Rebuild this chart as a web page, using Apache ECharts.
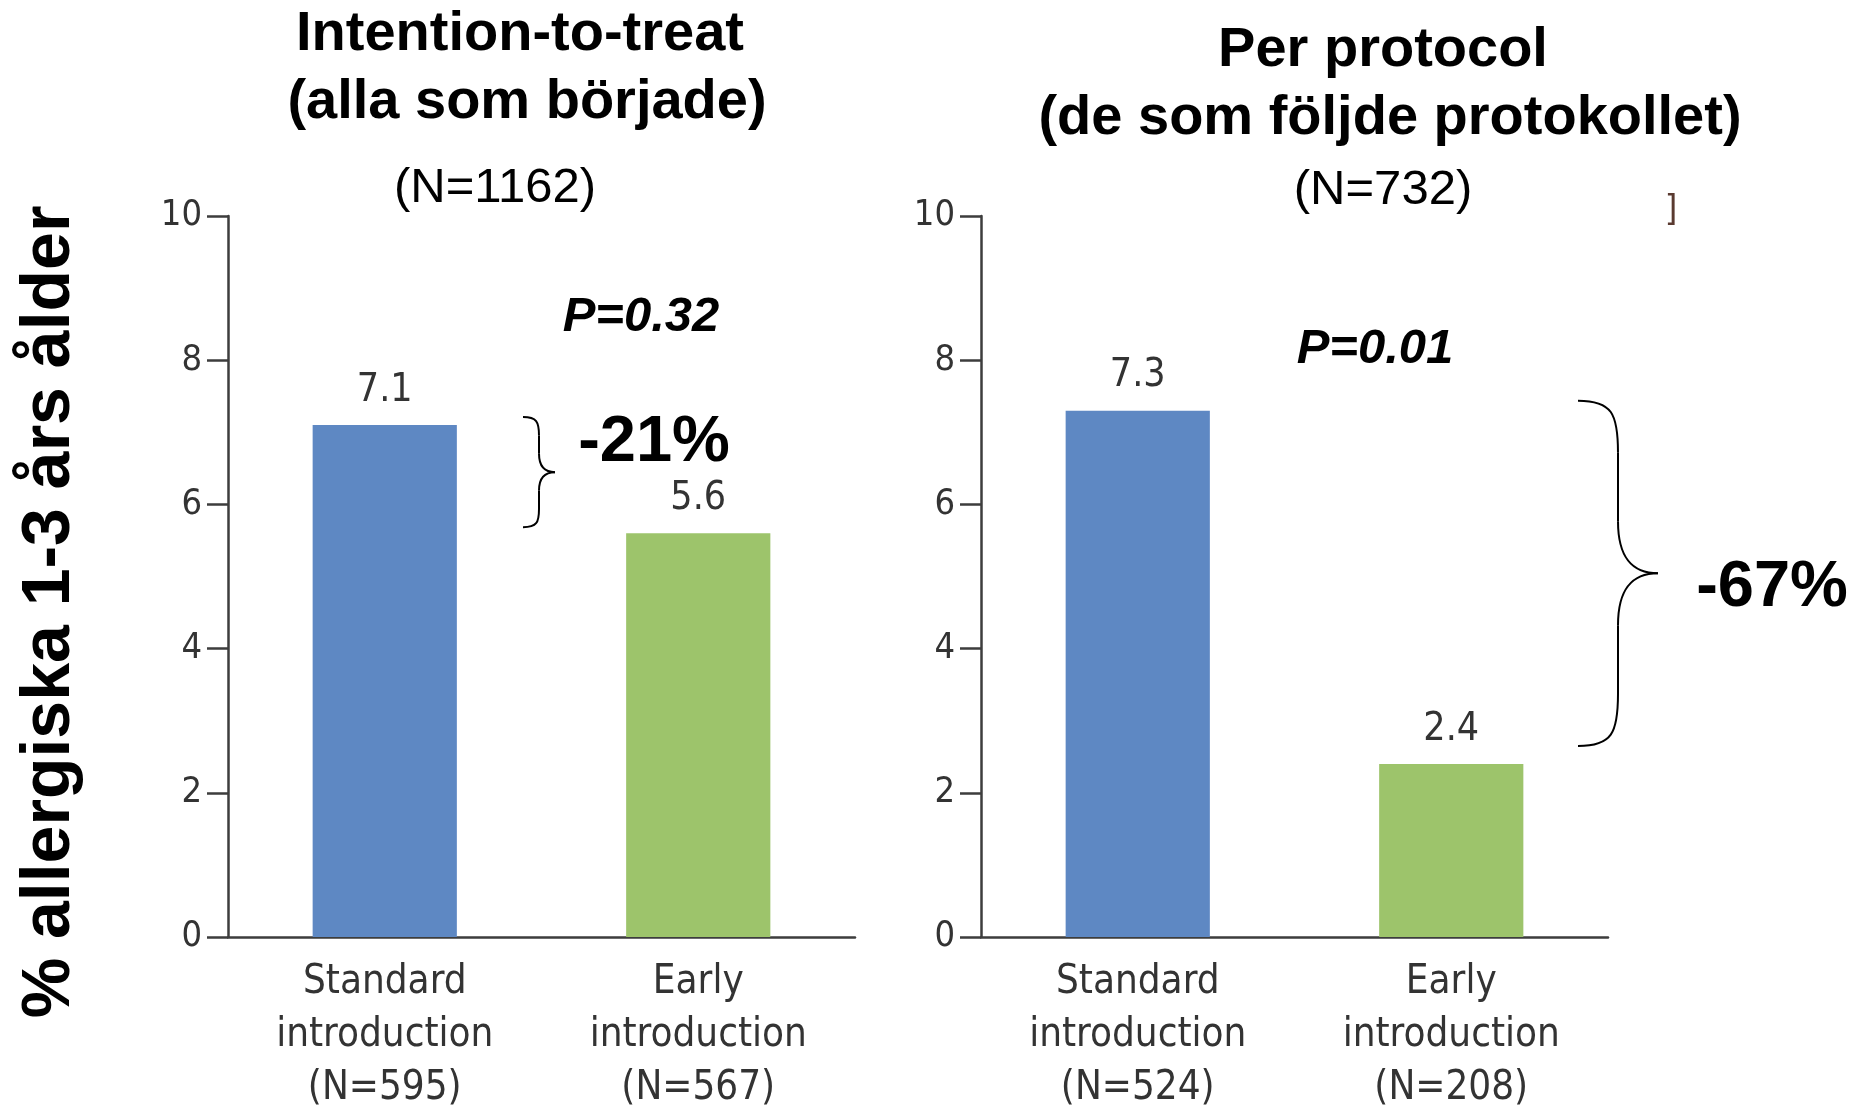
<!DOCTYPE html>
<html>
<head>
<meta charset="utf-8">
<title>Allergi 1-3 års ålder</title>
<script src="https://cdn.jsdelivr.net/npm/echarts@6/dist/echarts.min.js"></script>
<style>
  html, body { margin: 0; padding: 0; background: #fff; }
  #chart { width: 1854px; height: 1115px; }
</style>
</head>
<body>
<div id="chart"></div>
<script>
// Category labels of each panel
const categoriesITT = ['Standard\nintroduction\n(N=595)', 'Early\nintroduction\n(N=567)'];
const categoriesPP = ['Standard\nintroduction\n(N=524)', 'Early\nintroduction\n(N=208)'];

// Percent allergic at 1-3 years
const valuesITT = [7.1, 5.6];
const valuesPP = [7.3, 2.4];

// Y axis range
const yMin = 0;
const yMax = 10;
const yStep = 2;

// Panel headings and annotations
const titleITT = ['Intention-to-treat', '(alla som började)'];
const nITT = '(N=1162)';
const titlePP = ['Per protocol', '(de som följde protokollet)'];
const nPP = '(N=732)';
const pITT = 'P=0.32';
const pPP = 'P=0.01';
const diffITT = '-21%';
const diffPP = '-67%';
const yTitle = '% allergiska 1-3 års ålder';

const barColors = ['#5e88c3', '#9dc46b'];
const narrow = "'Liberation Sans Narrow', 'DejaVu Sans Condensed', sans-serif";
const sans = "'Liberation Sans', Arial, sans-serif";
const axisColor = '#3d3d3d';

function makeY(gridIndex) {
  return {
    type: 'value', gridIndex, min: yMin, max: yMax, interval: yStep,
    axisLine: { show: true, lineStyle: { color: axisColor, width: 2.5 } },
    axisTick: { show: true, inside: false, length: 21, lineStyle: { color: axisColor, width: 2.5 } },
    axisLabel: { color: '#333', fontFamily: narrow, fontSize: 36, margin: 26 },
    splitLine: { show: false }
  };
}
function makeX(gridIndex, cats) {
  return {
    type: 'category', gridIndex, data: cats,
    axisLine: { show: true, lineStyle: { color: axisColor, width: 2.5 } },
    axisTick: { show: false },
    axisLabel: { color: '#333', fontFamily: narrow, fontSize: 40, lineHeight: 53, margin: 19, interval: 0 }
  };
}
function makeBar(idx, values) {
  return {
    type: 'bar', xAxisIndex: idx, yAxisIndex: idx, barWidth: '46%',
    data: values.map((v, i) => ({ value: v, itemStyle: { color: barColors[i] } })),
    label: {
      show: true, position: 'top', distance: 15, color: '#333',
      fontFamily: narrow, fontSize: 39,
      formatter: p => p.value.toFixed(1)
    },
    silent: true
  };
}

const chart = echarts.init(document.getElementById('chart'), null, { renderer: 'canvas' });

chart.setOption({
  backgroundColor: '#fff',
  animation: false,
  grid: [
    { left: 228, top: 216, width: 627, height: 730 },
    { left: 981, top: 216, width: 627, height: 730 }
  ],
  xAxis: [makeX(0, categoriesITT), makeX(1, categoriesPP)],
  yAxis: [makeY(0), makeY(1)],
  series: [makeBar(0, valuesITT), makeBar(1, valuesPP)]
});

// Curly brace from y1 to y2, opening left, tip pointing right
function brace(x, y1, y2, w) {
  const r = w / 2;
  const xm = x + r, xr = x + w, ym = (y1 + y2) / 2;
  const stroke = { stroke: '#000', lineWidth: 2, fill: null };
  const curve = (x1, yA, x2, yB, c1x, c1y, c2x, c2y) => ({
    type: 'bezierCurve',
    shape: { x1, y1: yA, x2, y2: yB, cpx1: c1x, cpy1: c1y, cpx2: c2x, cpy2: c2y },
    style: stroke
  });
  const line = (yA, yB) => ({ type: 'line', shape: { x1: xm, y1: yA, x2: xm, y2: yB }, style: stroke });
  const k = Math.min(r * 1.3, (y2 - y1) / 6);
  return [
    curve(x, y1, xm, y1 + k, x + r * 0.85, y1, xm, y1 + k * 0.25),
    line(y1 + k, ym - k),
    curve(xm, ym - k, xr, ym, xm, ym - k * 0.3, xm + r * 0.35, ym),
    curve(xr, ym, xm, ym + k, xm + r * 0.35, ym, xm, ym + k * 0.3),
    line(ym + k, y2 - k),
    curve(xm, y2 - k, x, y2, xm, y2 - k * 0.25, x + r * 0.85, y2)
  ];
}

// Brace ends follow the bar tops of each panel
const yTopITT = chart.convertToPixel({ yAxisIndex: 0 }, valuesITT[0]) - 8;
const yBotITT = chart.convertToPixel({ yAxisIndex: 0 }, valuesITT[1]) - 6;
const yTopPP = chart.convertToPixel({ yAxisIndex: 1 }, valuesPP[0]) - 10;
const yBotPP = chart.convertToPixel({ yAxisIndex: 1 }, valuesPP[1]) - 18;

function txt(x, y, text, font, fill) {
  return {
    type: 'text', x, y,
    style: { text, font, fill: fill || '#000', align: 'center', verticalAlign: 'middle' }
  };
}

chart.setOption({
  graphic: [
    txt(520, 35, titleITT[0], 'bold 56px ' + sans),
    txt(527, 103, titleITT[1], 'bold 56px ' + sans),
    txt(495, 188, nITT, '49px ' + sans),
    txt(1383, 51, titlePP[0], 'bold 56px ' + sans),
    txt(1390, 119, titlePP[1], 'bold 56px ' + sans),
    txt(1383, 190, nPP, '49px ' + sans),
    txt(641, 317, pITT, 'italic bold 49px ' + sans),
    txt(1375, 349, pPP, 'italic bold 49px ' + sans),
    txt(654, 443, diffITT, 'bold 65px ' + sans),
    txt(1772, 588, diffPP, 'bold 65px ' + sans),
    {
      type: 'text', x: 50, y: 612, rotation: Math.PI / 2,
      style: { text: yTitle, font: 'bold 68px ' + sans, fill: '#000', align: 'center', verticalAlign: 'middle' }
    },
    ...brace(523, yTopITT, yBotITT, 32),
    ...brace(1578, yTopPP, yBotPP, 80),
    txt(1671, 211, ']', '36px ' + narrow, '#5a3a30')
  ]
});
</script>
</body>
</html>
